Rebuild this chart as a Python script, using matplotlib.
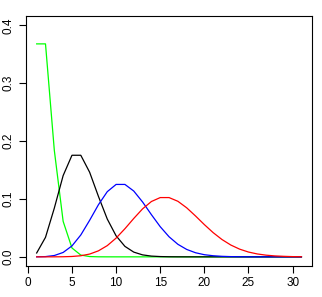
import matplotlib
matplotlib.use("Agg")
import matplotlib.pyplot as plt

x = list(range(1, 32))

# values (Poisson-shaped curves)
green = [0.3679, 0.3679, 0.1839, 0.0613, 0.0153, 0.00307, 0.00051, 0.00007,
         0.00001, 0, 0, 0, 0, 0, 0, 0, 0, 0, 0, 0, 0, 0, 0, 0, 0, 0, 0, 0, 0, 0, 0]
black = [0.0067, 0.0337, 0.0842, 0.1404, 0.1755, 0.1755, 0.1462, 0.1044, 0.0653,
         0.0363, 0.0181, 0.0082, 0.0034, 0.0013, 0.0005, 0.00016, 0.00005, 0.00001,
         0, 0, 0, 0, 0, 0, 0, 0, 0, 0, 0, 0, 0]
blue = [0.00005, 0.00045, 0.0023, 0.0076, 0.0189, 0.0378, 0.0631, 0.0901, 0.1126,
        0.1251, 0.1251, 0.1137, 0.0948, 0.0729, 0.0521, 0.0347, 0.0217, 0.0128,
        0.0071, 0.0037, 0.0019, 0.0009, 0.0004, 0.0002, 0.00007, 0.00003, 0.00001,
        0, 0, 0, 0]
red = [0.0, 0.000005, 0.00003, 0.00017, 0.00065, 0.0019, 0.0048, 0.0104, 0.0194,
       0.0324, 0.0486, 0.0663, 0.0829, 0.0956, 0.1024, 0.1024, 0.0960, 0.0847,
       0.0706, 0.0557, 0.0418, 0.0299, 0.0204, 0.0133, 0.0083, 0.0050, 0.0029,
       0.0016, 0.0009, 0.0004, 0.0002]

plt.rcParams.update({'font.size': 8.5, 'font.family': ['Liberation Sans', 'DejaVu Sans']})

fig = plt.figure(figsize=(3.22, 2.97), dpi=100)
ax = fig.add_axes([0.081, 0.104, 0.888, 0.842])

lw = 0.9
ax.plot(x, green, color="#00ff00", lw=lw)
ax.plot(x, black, color="black", lw=lw)
ax.plot(x, blue, color="#0000ff", lw=lw)
ax.plot(x, red, color="#ff0000", lw=lw)

ax.set_xlim(-0.2, 32.2)
ax.set_ylim(-0.016, 0.416)
ax.set_xticks([0, 5, 10, 15, 20, 25, 30])
ax.set_yticks([0.0, 0.1, 0.2, 0.3, 0.4])
ax.set_yticklabels(["0.0", "0.1", "0.2", "0.3", "0.4"], rotation=90, va="center")
ax.tick_params(direction="out", length=5, width=0.8, pad=3)
for s in ax.spines.values():
    s.set_linewidth(0.8)

fig.savefig("out.png", dpi=100)
